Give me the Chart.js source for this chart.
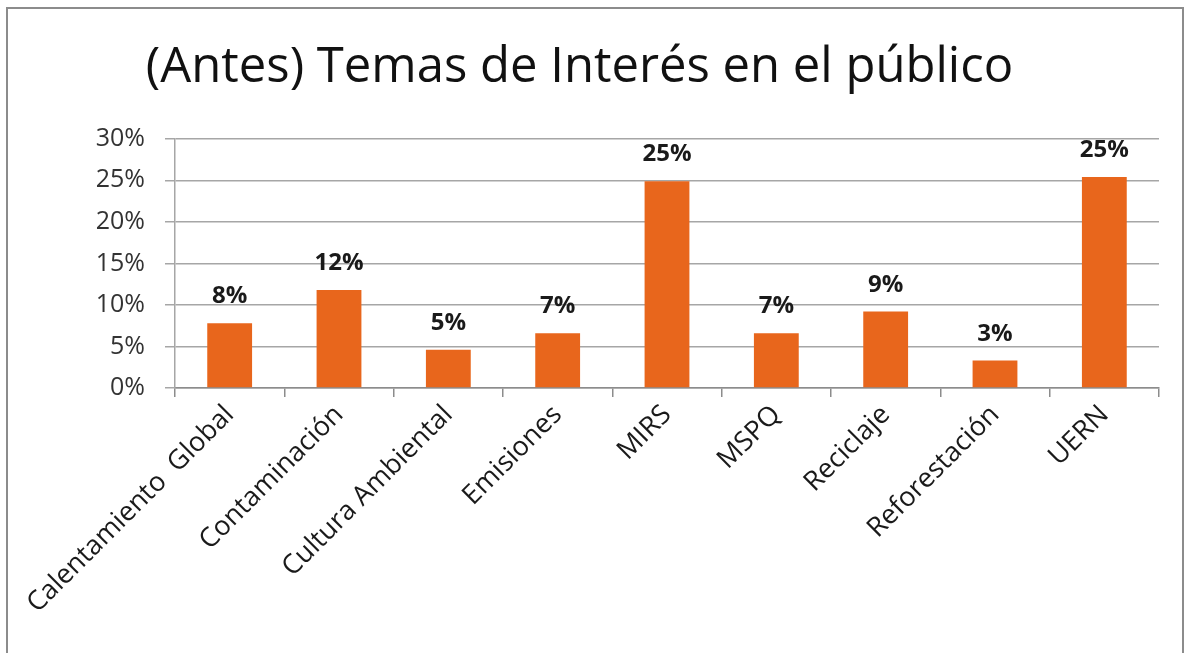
<!DOCTYPE html>
<html>
<head>
<meta charset="utf-8">
<script src="https://cdn.jsdelivr.net/npm/chart.js@4"></script>
<style>
  html, body { margin: 0; padding: 0; background: #fff; }
  #wrap { position: relative; width: 1189px; height: 653px; overflow: hidden; }
  #frame { position: absolute; left: 6px; top: 7px; width: 1178px; height: 700px; border: 2px solid #8c8c8c; box-sizing: border-box; }
  canvas { position: absolute; left: 0; top: 0; }
</style>
</head>
<body>
<div id="wrap">
  <div id="frame"></div>
  <canvas id="temasChart" width="1189" height="653"></canvas>
</div>
<script>
const categories = ['Calentamiento  Global', 'Contaminación', 'Cultura Ambiental', 'Emisiones', 'MIRS', 'MSPQ', 'Reciclaje', 'Reforestación', 'UERN'];
const values = [7.8, 11.8, 4.6, 6.6, 24.9, 6.6, 9.2, 3.3, 25.4];
const yTicks = [0, 5, 10, 15, 20, 25, 30];

const fontFamily = '"Open Sans", "DejaVu Sans", sans-serif';

// labels above each bar (rounded percent)
const barLabels = {
    id: 'barLabels',
    afterDatasetsDraw(chart) {
        const ctx = chart.ctx;
        const meta = chart.getDatasetMeta(0);
        ctx.save();
        ctx.font = 'bold 24px ' + fontFamily;
        ctx.fillStyle = '#1a1a1a';
        ctx.textAlign = 'center';
        ctx.textBaseline = 'alphabetic';
        meta.data.forEach((bar, i) => {
            ctx.fillText(Math.round(values[i]) + '%', bar.x, bar.y - 20);
        });
        ctx.restore();
    }
};

new Chart(document.getElementById('temasChart').getContext('2d'), {
    type: 'bar',
    data: {
        labels: categories,
        datasets: [{
            data: values,
            backgroundColor: '#E8661C',
            categoryPercentage: 1.0,
            barPercentage: 0.41
        }]
    },
    options: {
        responsive: false,
        animation: false,
        layout: { padding: { left: 0, right: 30, top: 0, bottom: 0 } },
        plugins: {
            legend: { display: false },
            tooltip: { enabled: false },
            title: {
                display: true,
                text: '(Antes) Temas de Interés en el público',
                color: '#111',
                font: { family: fontFamily, size: 49, weight: 'normal' },
                padding: { top: 39, bottom: 41 }
            }
        },
        scales: {
            x: {
                grid: { offset: true, drawOnChartArea: false, drawTicks: true, tickLength: 9, color: '#8c8c8c', lineWidth: 1.5 },
                border: { display: true, color: '#8c8c8c', width: 1.5 },
                ticks: {
                    color: '#1a1a1a',
                    font: { family: fontFamily, size: 27 },
                    minRotation: 45,
                    maxRotation: 45,
                    padding: 2,
                    autoSkip: false
                },
                afterFit(scale) { scale.height = 653 - 388; }
            },
            y: {
                min: 0,
                max: 30,
                afterBuildTicks(scale) { scale.ticks = yTicks.map(v => ({ value: v })); },
                grid: { color: '#a6a6a6', lineWidth: 1.5, drawTicks: true, tickLength: 10 },
                border: { display: true, color: '#a6a6a6', width: 1.5 },
                ticks: {
                    color: '#333',
                    font: { family: fontFamily, size: 25 },
                    padding: 20,
                    callback: v => v + '%'
                },
                afterFit(scale) { scale.width = 175; }
            }
        }
    },
    plugins: [barLabels]
});
</script>
</body>
</html>
